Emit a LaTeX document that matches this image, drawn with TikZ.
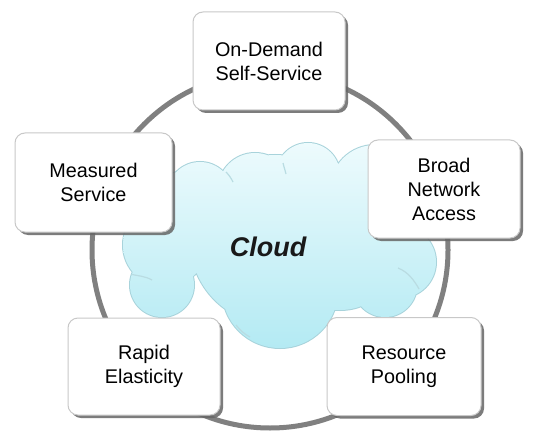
\documentclass[tikz,border=0pt]{standalone}
\usepackage{fontspec}
\setmainfont{Liberation Sans}
\usetikzlibrary{shadows}
\definecolor{ringgray}{HTML}{808080}
\definecolor{cloudtop}{HTML}{EEFBFD}
\definecolor{cloudbot}{HTML}{B3EAF3}
\definecolor{cloudedge}{HTML}{A8D3DB}
\definecolor{boxedge}{HTML}{C8C8C8}
\tikzset{
  featbox/.style={draw=boxedge, line width=1pt, fill=white, rounded corners=10pt,
    align=center, inner sep=0pt,
    font=\fontsize{19.8}{24}\selectfont,
    drop shadow={shadow xshift=3pt, shadow yshift=-3pt, fill=black!60, opacity=0.85}},
  ring/.style={draw=ringgray, line width=5pt},
  cloudtxt/.style={font=\fontsize{27}{30}\selectfont\bfseries\itshape, text=black!90},
  innerline/.style={draw=cloudedge!80, line width=1.2pt}
}
\newcommand{\cloudcircles}{%
  (200,195) circle (33) (255,190) circle (37) (308,175) circle (32)
  (375,190) circle (45) (400,262) circle (36) (385,285) circle (32)
  (280,290) circle (58) (162,285) circle (32) (165,245) circle (42)
  (190,215) circle (45) (275,240) circle (85) (340,250) circle (60)}
\begin{document}
\begin{tikzpicture}[x=1pt,y=-1pt]
  \useasboundingbox[fill=white] (0,0) rectangle (534,430);
  % ring
  \coordinate (c) at (270,250);
  \draw[ring] (c) circle (178);
  % cloud outline then fill
  \draw[cloudedge, line width=2pt] \cloudcircles;
  \begin{scope}
    \clip \cloudcircles;
    \shade[top color=cloudtop, bottom color=cloudbot] (100,140) rectangle (440,350);
    % faint inner lump lines
    \draw[innerline] (130,274) .. controls (138,276) and (145,276) .. (152,280);
    \draw[innerline] (419,289) .. controls (414,280) and (408,272) .. (398,268);
    \draw[innerline] (226,172) .. controls (229,175) and (231,178) .. (233,182);
    \draw[innerline] (283,163) .. controls (284,167) and (285,170) .. (286,174);
    \draw[innerline] (236,325) .. controls (240,330) and (244,334) .. (250,337);
  \end{scope}
  \node[cloudtxt] (cloud) at (268,247) {Cloud};
  % feature boxes
  \node[featbox, minimum width=152pt, minimum height=98pt] (ods) at (269,61) {On-Demand\\Self-Service};
  \node[featbox, minimum width=157pt, minimum height=99pt] (ms) at (93.5,182.5) {Measured\\Service};
  \node[featbox, minimum width=152pt, minimum height=98pt] (bna) at (444,189) {Broad\\Network\\Access};
  \node[featbox, minimum width=152pt, minimum height=97pt] (re) at (144,366.5) {Rapid\\Elasticity};
  \node[featbox, minimum width=154pt, minimum height=98pt] (rp) at (404,366.5) {Resource\\Pooling};
\end{tikzpicture}
\end{document}
